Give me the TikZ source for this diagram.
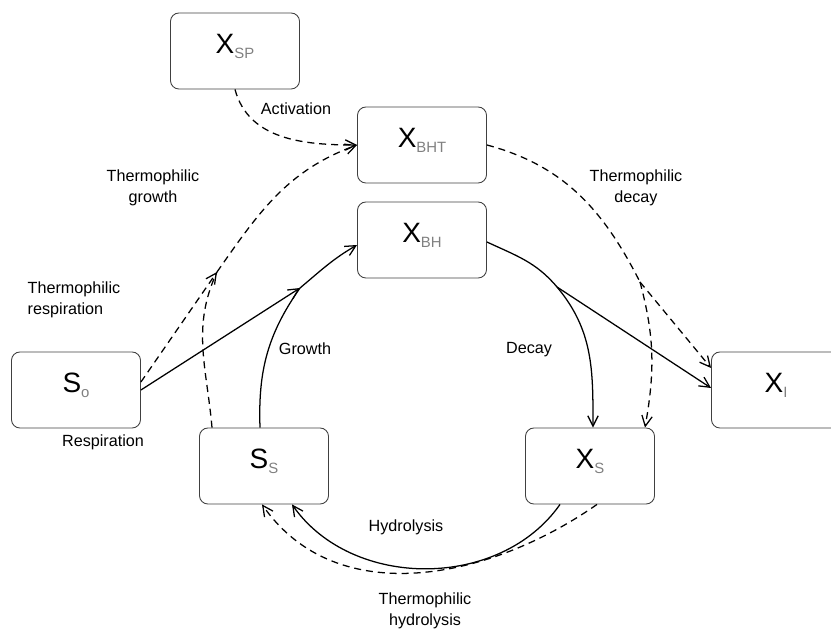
\documentclass[tikz,border=0pt]{standalone}
\usepackage{fontspec}
\setmainfont{Liberation Sans}
\usetikzlibrary{arrows.meta}
\newcommand{\spec}[2]{#1\raisebox{-3.5pt}{\fontsize{10.6}{12}\selectfont\color{gray}#2}}

\begin{document}
\begin{tikzpicture}[x=0.025cm,y=0.025cm,
  state_box/.style={draw=black!75,rounded corners=6pt,line width=0.6pt,minimum width=3.225cm,minimum height=1.9cm,text height=14pt,text depth=11pt,inner sep=0pt,font=\fontsize{19.9}{24}\selectfont},
  flow/.style={line width=0.9pt,-{Straight Barb[length=2.6mm,width=2.6mm]}},
  tflow/.style={flow,dash pattern=on 5pt off 3.5pt},
  lbl/.style={font=\fontsize{11.5}{14.5}\selectfont,align=center}]

    \useasboundingbox (0,0) rectangle (831,-629);

    \node[state_box] (xsp) at (235,-51) {\spec{X}{SP}};
    \node[state_box] (xbht) at (422,-145) {\spec{X}{BHT}};
    \node[state_box] (xbh) at (422,-240) {\spec{X}{BH}};
    \node[state_box] (so) at (76,-390) {\spec{S}{o}};
    \node[state_box] (sS) at (264,-466) {\spec{S}{S}};
    \node[state_box] (xS) at (590,-466) {\spec{X}{S}};
    \node[state_box] (xI) at (776,-390) {\spec{X}{I}};

    \coordinate (tg) at (217,-272);
    \coordinate (gj) at (300,-288);
    \coordinate (dj) at (557,-287);
    \coordinate (tdj) at (640,-282);

    % activation
    \draw[tflow] (xsp.south) to[out=-75,in=180] (xbht.west);
    % thermophilic growth
    \draw[tflow] ([shift={(0,8)}]so.east) -- (tg);
    \draw[tflow,-] ([shift={(-52,0)}]sS.north) to[out=95,in=-115] (tg);
    \draw[tflow] (tg) to[out=55,in=200] (xbht.west);
    % growth
    \draw[flow] (so.east) -- (gj);
    \draw[flow,-] ([shift={(-4,0)}]sS.north) to[out=92,in=-125] (gj);
    \draw[flow] (gj) to[out=40,in=210] ([shift={(0,-5)}]xbh.west);
    % decay
    \draw[flow,-] ([shift={(0,-2)}]xbh.east) to[out=-25,in=130] (dj);
    \draw[flow] (dj) to[out=-50,in=90] ([shift={(3,0)}]xS.north);
    \draw[flow] (dj) -- ([shift={(0,2)}]xI.west);
    % thermophilic decay
    \draw[tflow,-] (xbht.east) to[out=-15,in=117] (tdj);
    \draw[tflow] (tdj) to[out=-75,in=80] ([shift={(55,0)}]xS.north);
    \draw[tflow] (tdj) -- ([shift={(0,22)}]xI.west);
    % hydrolysis
    \draw[flow] ([shift={(-30,0)}]xS.south) to[out=-125,in=-55] ([shift={(28,0)}]sS.south);
    \draw[tflow] ([shift={(7,0)}]xS.south) to[out=-145,in=-55] ([shift={(-2,0)}]sS.south);

    \node[lbl] (act) at (296,-109) {Activation};
    \node[lbl] (tgrowth) at (153,-188) {Thermophilic\\growth};
    \node[lbl,align=left] (tresp) at (74,-300) {Thermophilic\\respiration};
    \node[lbl] (resp) at (103,-442) {Respiration};
    \node[lbl] (grow) at (305,-349) {Growth};
    \node[lbl] (dec) at (529,-350) {Decay};
    \node[lbl] (tdec) at (636,-188) {Thermophilic\\decay};
    \node[lbl] (hyd) at (406,-527) {Hydrolysis};
    \node[lbl] (thyd) at (425,-611) {Thermophilic\\hydrolysis};
\end{tikzpicture}
\end{document}
